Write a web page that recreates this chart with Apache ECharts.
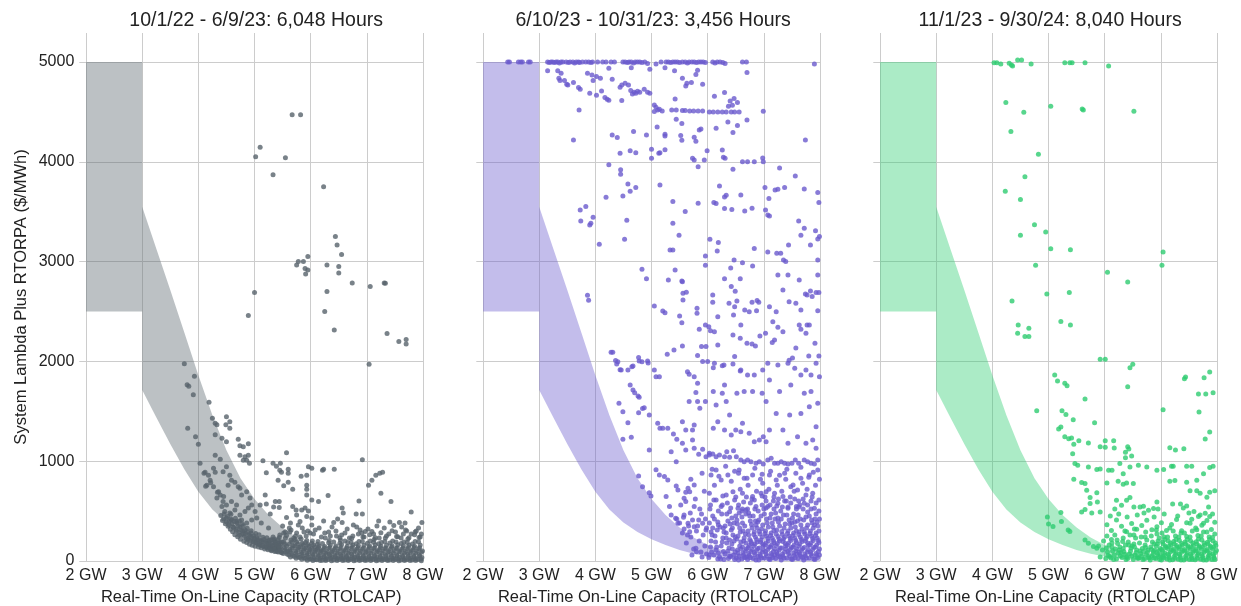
<!DOCTYPE html>
<html>
<head>
<meta charset="utf-8">
<script src="https://cdn.jsdelivr.net/npm/echarts@6/dist/echarts.min.js"></script>
<style>
  html, body { margin: 0; padding: 0; background: #ffffff; }
  #chart { width: 1241px; height: 606px; }
</style>
</head>
<body>
<div id="chart"></div>
<script>
// ---- Period titles and axis ticks ----
const periodTitles = [
  '10/1/22 - 6/9/23: 6,048 Hours',
  '6/10/23 - 10/31/23: 3,456 Hours',
  '11/1/23 - 9/30/24: 8,040 Hours'
];
const capacityTicks = [2, 3, 4, 5, 6, 7, 8];          // GW
const priceTicks = [0, 1000, 2000, 3000, 4000, 5000];  // $/MWh

// ---- Reserve price band (same in every period) ----
// Flat block below 3 GW of on-line capacity
const blockCapacity = [2, 3];
const blockPrice = [2500, 5000];
// Sloped band above 3 GW: upper and lower edge of the price range
const curveCapacity = [3.0, 3.25, 3.5, 3.75, 4.0, 4.25, 4.5, 4.75, 5.0, 5.25, 5.5, 5.75, 6.0, 6.25, 6.5, 6.75, 7.0, 7.5, 8.0];
const curveHigh = [3550, 3130, 2715, 2290, 1860, 1460, 1110, 830, 620, 460, 335, 235, 160, 110, 78, 57, 43, 25, 12];
const curveLow = [1713, 1440, 1172, 920, 695, 515, 385, 290, 218, 160, 110, 72, 45, 27, 15, 8, 4, 1, 0];

// ---- Hourly observations: [RTOLCAP in GW, System Lambda + RTORPA in $/MWh] ----
const hoursFall22 = [
  [5.67,4470],[5.82,4470],[5.10,4145],[5.02,4050],[5.55,4040],[5.33,3870],[6.23,3750],
  [6.44,3250],[6.47,3165],[6.55,3070],[5.95,3050],[5.78,3000],[5.87,3000],[5.75,2965],[5.90,2930],[5.95,2915],[5.91,2875],
  [6.29,2965],[6.50,2950],[6.50,2885],[6.74,2785],[7.06,2750],[7.31,2785],[7.33,2782],[6.29,2700],[6.25,2500],[6.42,2315],
  [7.36,2280],[7.57,2200],[7.70,2220],[7.70,2175],[5.00,2690],[4.89,2460],[7.04,1970],
  [3.75,1975],[3.93,1850],[3.80,1765],[3.83,1750],[3.91,1665],[4.19,1590],[3.81,1330],[3.95,1245],[4.00,1170],[4.03,980],
  [4.25,1430],[4.30,1380],[4.33,1365],[4.50,1445],[4.56,1395],[4.49,1365],[4.56,1330],[4.30,1265],[4.42,1230],[4.50,1195],
  [4.71,1220],[4.74,1155],[4.80,1145],[4.89,1175],[4.74,1060],[4.83,1045],[4.89,1060],[4.86,1010],[4.80,1010],[4.91,980],
  [5.57,1085],[6.92,1015],[4.30,1060],[4.39,1020],[4.27,930],[4.30,890],[4.12,890],[4.18,860],[4.21,810],[4.15,760],
  [4.44,895],[4.50,945],[4.56,860],[4.59,810],[4.65,790],[4.53,760],[4.71,745],[4.27,745],[4.36,695],[4.39,660],[4.33,630],
  [4.44,595],[4.42,545],[4.50,560],[4.59,595],[4.68,560],[4.77,660],[4.74,730],[4.86,695],[4.92,630],[4.47,495],[4.56,480],
  [4.65,510],[4.74,460],[4.83,495],[4.89,530],[4.95,560],[5.01,495],[4.50,430],[4.59,410],[4.68,395],[4.77,410],[4.86,380],
  [4.95,410],[5.04,430],[4.10,880],[4.22,785],[4.13,750],[4.34,690],[4.45,645],
  [4.40,455],[4.43,405],[4.46,470],[4.48,372],[4.52,445],[4.53,348],[4.55,398],[4.57,318],[4.60,372],[4.61,292],[4.63,336],
  [4.65,262],[4.67,315],[4.69,378],[4.70,242],[4.72,286],[4.74,338],[4.75,218],[4.77,263],[4.79,302],[4.81,198],[4.82,245],
  [4.84,276],[4.86,186],[4.88,222],[4.90,262],[4.91,168],[4.93,208],[4.95,236],[4.96,158],[4.98,193],[5.00,228],[5.01,148],
  [5.03,182],[5.05,214],[5.07,140],[5.09,168],[5.11,203],[5.12,132],[5.14,158],[5.16,192],[5.18,121],[5.20,152],[5.22,178],
  [5.24,112],[5.26,138],[5.28,168],[5.30,103],[5.32,128],[5.34,157],[5.36,96],[5.38,118],[5.40,146],[5.42,91],[5.44,116],
  [5.46,138],[5.48,86],[4.58,468],[4.66,428],[4.73,402],[4.80,352],[4.87,328],[4.94,302],[5.02,276],[5.08,262],[5.15,238],
  [5.22,232],[5.30,212],[5.37,198],[5.45,188],
  [4.45,420],[4.50,390],[4.55,360],[4.58,420],[4.62,340],[4.64,395],[4.68,300],[4.71,350],[4.73,260],[4.76,310],[4.78,370],
  [4.80,270],[4.83,310],[4.85,230],[4.87,290],[4.89,210],[4.92,250],[4.94,280],[4.97,200],[4.99,250],[5.02,190],[5.04,230],
  [5.06,170],[5.08,215],[5.10,160],[5.13,195],[5.15,150],[5.17,215],[5.19,140],[5.21,195],[5.23,130],[5.25,200],[5.27,150],
  [5.29,125],[5.31,175],[5.33,118],[5.35,220],[5.39,160],[5.41,120],[5.43,175],
  [5.15,1005],[5.33,980],[5.39,950],[5.46,980],[5.45,910],[5.48,890],[5.60,920],[5.60,880],[5.21,885],[5.42,810],[5.52,755],
  [5.60,790],[5.68,720],[5.83,850],[5.93,860],[5.96,945],[6.02,930],[5.93,760],[5.93,720],[5.93,660],[6.21,910],[6.23,920],
  [6.42,920],[5.19,660],[5.21,570],[5.37,595],[5.34,540],[5.44,595],[5.44,535],[5.68,545],[5.74,510],[5.84,510],[5.90,530],
  [5.96,500],[5.75,460],[5.93,445],[5.57,435],[5.64,380],[5.81,395],[6.02,430],[6.02,610],[6.14,595],[6.31,655],[6.56,530],
  [6.58,480],[6.81,470],[6.92,470],[6.86,600],[7.03,760],[7.09,810],[7.16,860],[7.23,880],[7.28,890],[7.25,680],[7.43,595],
  [7.79,490],[7.98,385],[6.23,400],[6.41,385],[6.56,385],[6.76,360],[6.88,310],[6.97,295],[7.09,295],[7.21,400],[7.41,390],
  [7.58,385],[7.71,300],[7.86,290],
  [5.10,560],[5.28,470],[5.12,380],[5.25,330],[5.50,350],[5.55,290],[5.65,310],[5.75,280],[5.85,330],[5.95,300],[6.05,270],
  [6.15,330],[6.25,280],[6.35,250],[6.45,300],[6.55,260],[6.65,320],[6.75,250],[6.85,270],[6.95,240],[7.05,262],[7.15,232],
  [7.25,282],[7.35,250],[7.45,302],[7.55,242],[7.65,270],[7.75,232],[7.85,262],[7.95,240],[7.62,340],[7.48,355],[7.92,330],
  [5.62,330],[5.78,360],[5.92,250],[6.08,310],[6.19,240],[6.32,290],[6.38,340],[6.52,230],[6.61,280],[6.69,230],[6.82,340],
  [6.91,280],[7.02,320],[7.12,270],[7.22,230],[7.31,330],[7.39,270],[7.51,290],[7.61,230],[7.69,310],[7.79,270],[7.88,300],
  [7.97,270],[6.02,360],[6.48,420],[7.18,350],[7.68,380],[5.52,280],[5.70,230],[5.88,290],
  [5.22,140],[5.25,175],[5.28,120],[5.27,210],
  [5.31,110],[5.34,150],[5.37,190],[5.33,240],[5.38,100],[5.36,125],[5.39,165],[5.35,205],
  [5.41,95],[5.44,130],[5.47,170],[5.42,215],[5.48,85],[5.45,260],[5.46,105],[5.43,150],[5.49,190],[5.44,235],
  [5.51,75],[5.54,110],[5.57,150],[5.52,190],[5.58,70],[5.55,230],[5.56,90],[5.53,130],[5.59,100],[5.54,170],[5.57,255],
  [5.61,60],[5.64,95],[5.67,130],[5.62,170],[5.68,55],[5.65,210],[5.63,290],[5.66,75],[5.63,115],[5.69,150],[5.64,40],[5.67,190],
  [5.71,45],[5.74,80],[5.77,115],[5.72,150],[5.78,40],[5.75,190],[5.73,250],[5.76,60],[5.73,100],[5.79,135],[5.74,28],[5.77,170],[5.72,215],
  [5.81,35],[5.84,70],[5.87,105],[5.82,140],[5.88,30],[5.85,175],[5.83,220],[5.86,52],[5.83,88],[5.89,122],[5.84,18],[5.87,160],[5.81,240],
  [5.91,25],[5.94,60],[5.97,95],[5.92,130],[5.98,20],[5.95,165],[5.93,205],[5.99,280],[5.96,40],[5.93,78],[5.99,112],[5.94,8],[5.97,148],[5.91,185],
  [6.01,20],[6.04,55],[6.07,90],[6.02,125],[6.08,15],[6.05,160],[6.03,200],[6.06,35],[6.03,72],[6.09,105],[6.04,5],[6.07,140],[6.02,178],
  [6.11,12],[6.14,48],[6.17,85],[6.12,118],[6.18,30],[6.15,150],[6.13,195],[6.16,20],[6.13,63],[6.19,99],[6.14,134],[6.17,4],[6.12,168],
  [6.21,8],[6.24,42],[6.27,78],[6.22,112],[6.28,25],[6.25,145],[6.26,230],[6.26,18],[6.23,60],[6.29,96],[6.24,131],[6.27,6],[6.21,175],
  [6.31,15],[6.34,52],[6.37,88],[6.32,125],[6.38,35],[6.35,160],[6.33,205],[6.36,22],[6.33,66],[6.39,101],[6.34,136],[6.37,3],[6.32,182],
  [6.41,10],[6.44,45],[6.47,82],[6.42,115],[6.48,28],[6.45,150],[6.46,250],[6.46,19],[6.43,61],[6.49,97],[6.44,132],[6.47,5],[6.41,190],
  [6.51,14],[6.54,50],[6.57,86],[6.52,122],[6.58,32],[6.55,165],[6.53,210],[6.56,21],[6.53,64],[6.59,100],[6.54,135],[6.57,4],[6.52,178],
  [6.61,9],[6.64,44],[6.67,80],[6.62,113],[6.68,26],[6.65,148],[6.66,185],[6.66,17],[6.63,59],[6.69,95],[6.64,130],[6.67,6],[6.61,200],
  [6.71,16],[6.74,53],[6.77,90],[6.72,126],[6.78,36],[6.75,160],[6.73,225],[6.76,23],[6.73,67],[6.79,102],[6.74,137],[6.77,3],[6.72,185],
  [6.81,11],[6.84,46],[6.87,83],[6.82,117],[6.88,29],[6.85,152],[6.86,195],[6.86,20],[6.83,62],[6.89,98],[6.84,133],[6.87,5],[6.81,172],
  [6.91,13],[6.94,49],[6.97,85],[6.92,120],[6.98,31],[6.95,158],[6.93,240],[6.96,18],[6.93,60],[6.99,96],[6.94,131],[6.97,4],[6.92,195],
  [7.01,10],[7.04,45],[7.07,81],[7.02,114],[7.08,27],[7.05,150],[7.06,200],[7.06,22],[7.03,65],[7.09,101],[7.04,136],[7.07,6],[7.01,178],
  [7.11,15],[7.14,51],[7.17,88],[7.12,124],[7.18,34],[7.15,162],[7.13,215],[7.16,19],[7.13,61],[7.19,97],[7.14,132],[7.17,3],[7.12,188],
  [7.21,9],[7.24,44],[7.27,79],[7.22,112],[7.28,25],[7.25,147],[7.26,185],[7.26,21],[7.23,63],[7.29,99],[7.24,134],[7.27,5],[7.21,172],
  [7.31,14],[7.34,50],[7.37,86],[7.32,122],[7.38,33],[7.35,158],[7.33,230],[7.36,17],[7.33,59],[7.39,95],[7.34,130],[7.37,4],[7.32,195],
  [7.41,11],[7.44,47],[7.47,83],[7.42,118],[7.48,29],[7.45,153],[7.46,200],[7.46,23],[7.43,66],[7.49,102],[7.44,137],[7.47,6],[7.41,180],
  [7.51,16],[7.54,52],[7.57,89],[7.52,125],[7.58,35],[7.55,163],[7.53,245],[7.56,20],[7.53,62],[7.59,98],[7.54,133],[7.57,3],[7.52,190],
  [7.61,10],[7.64,45],[7.67,81],[7.62,115],[7.68,27],[7.65,150],[7.66,190],[7.66,18],[7.63,60],[7.69,96],[7.64,131],[7.67,5],[7.61,175],
  [7.71,13],[7.74,49],[7.77,85],[7.72,120],[7.78,31],[7.75,157],[7.73,220],[7.76,22],[7.73,64],[7.79,100],[7.74,135],[7.77,4],[7.72,185],
  [7.81,9],[7.84,44],[7.87,80],[7.82,113],[7.88,26],[7.85,148],[7.86,195],[7.86,19],[7.83,61],[7.89,97],[7.84,132],[7.87,6],[7.81,170],
  [7.91,15],[7.94,51],[7.97,87],[7.92,123],[7.98,34],[7.95,160],[7.93,235],[7.96,21],[7.93,63],[7.99,99],[7.94,134],[7.97,3],[7.92,192]
];

const hoursSummer23 = [
  [2.44,5000],[2.47,5000],[2.63,5000],[2.67,5000],[2.70,5000],[2.81,5000],[2.84,5000],
  [3.15,5000],[3.18,4995],[3.21,5000],[3.24,5000],[3.27,4995],[3.30,5000],[3.33,5000],[3.36,4990],[3.39,5000],[3.42,5000],
  [3.48,5000],[3.52,4995],[3.55,5000],[3.60,5000],[3.63,4990],[3.66,5000],[3.70,5000],[3.72,4995],[3.77,5000],[3.83,5000],
  [3.88,5000],[3.92,4995],[3.95,5000],[4.04,5000],[4.13,5000],[4.19,5000],[4.28,5000],[4.34,5000],[4.49,5000],[4.53,5000],
  [4.57,4995],[4.60,5000],[4.64,5000],[4.68,4990],[4.71,5000],[4.75,5000],[4.79,5000],[4.83,4995],[4.88,5000],[4.93,4985],
  [5.08,4980],[5.17,5000],[5.26,5000],[5.30,5000],[5.34,4995],[5.38,5000],[5.42,5000],[5.46,5000],[5.50,4995],[5.55,5000],
  [5.60,5000],[5.64,4990],[5.67,5000],[5.72,5000],[5.76,5000],[5.80,4995],[5.84,5000],[5.88,5000],[5.92,5000],[5.96,4995],
  [6.09,5000],[6.13,4990],[6.17,5000],[6.22,5000],[6.27,4995],[6.31,4985],[6.62,5000],[6.69,5000],[7.90,4980],
  [3.15,4913],[3.33,4913],[3.39,4886],[3.35,4836],[3.37,4813],[3.45,4813],[3.49,4776],[3.51,4770],[3.61,4793],[3.70,4743],
  [3.73,4726],[3.86,4886],[3.94,4869],[4.02,4853],[3.96,4813],[3.90,4686],[4.02,4666],[4.11,4709],[4.09,4836],[4.24,4936],
  [4.30,4826],[4.17,4643],[4.21,4626],[4.24,4616],[3.71,4519],[3.61,4218],[4.44,4746],[4.47,4770],[4.53,4786],[4.59,4770],
  [4.63,4713],[4.69,4696],[4.75,4706],[4.79,4696],[4.87,4726],[4.93,4696],[4.97,4686],[4.66,4679],[4.72,4686],[4.47,4613],
  [4.64,4943],[4.97,4926],[5.05,4569],[5.08,4546],[5.11,4519],[5.05,4503],[5.14,4526],[5.19,4509],[5.42,4629],[5.36,4519],
  [5.44,4519],[5.24,4943],[5.41,4913],[5.55,4836],[5.63,4786],[5.61,4759],[5.71,4793],[5.79,4873],[5.82,4916],[5.91,4776],
  [5.55,4513],[5.60,4513],[5.68,4509],[5.75,4509],[5.83,4509],[5.91,4509],[6.03,4499],[6.10,4499],[6.18,4499],[6.26,4499],
  [6.33,4499],[6.42,4499],[6.48,4499],[6.56,4499],[5.44,4426],[5.54,4383],[5.10,4349],[5.24,4276],[5.24,4259],[4.91,4269],
  [4.68,4303],[4.30,4269],[4.39,4242],[4.44,4085],[4.62,4111],[4.72,4091],[5.00,4125],[5.00,4034],[5.13,4085],[5.15,4091],
  [5.24,4121],[5.52,4262],[5.54,4215],[5.76,4245],[5.79,4205],[5.85,4319],[5.88,4329],[5.99,4111],[5.73,4034],[5.76,4018],
  [5.94,4018],[6.12,4656],[6.30,4693],[6.40,4609],[6.47,4633],[6.53,4593],[6.37,4556],[6.44,4566],[6.70,4893],[6.15,4336],
  [6.36,4399],[6.45,4292],[6.53,4363],[6.70,4419],[6.99,4506],[6.26,4118],[6.28,4044],[6.31,4034],[6.62,4001],[6.71,4001],
  [6.83,4001],[6.98,4038],[6.99,4001],[7.74,4218],[5.83,3951],[6.45,3924],[7.28,3938],[4.24,3971],[4.45,3921],
  [4.45,3875],[4.58,3778],[4.62,3704],[4.72,3741],[4.49,3658],[4.19,3644],[3.73,3517],[3.83,3551],[3.74,3407],[3.90,3367],
  [3.92,3384],[3.96,3444],[4.07,3173],[4.56,3414],[4.52,3223],[5.15,3768],[5.38,3601],[5.60,3501],[5.83,3584],[5.38,3384],
  [5.49,3263],[5.33,3116],[5.38,3116],[6.21,3758],[6.30,3648],[6.33,3665],[6.11,3591],[6.15,3581],[6.30,3531],[6.43,3521],
  [6.59,3668],[6.66,3507],[6.79,3534],[6.04,3223],[6.19,3190],[6.17,3106],[5.96,3056],[5.96,2963],[6.83,3130],[7.02,3741],
  [7.20,3718],[7.25,3724],[7.37,3741],[7.09,3631],[7.03,3517],[7.07,3467],[7.10,3457],[7.56,3858],[7.72,3728],[7.96,3691],
  [7.98,3591],[7.62,3407],[7.72,3333],[7.66,3263],[7.92,3310],[7.99,3250],[7.96,3226],[7.83,3166],[7.44,3166],[7.23,3083],
  [7.30,3083],[7.07,3096],[7.35,3016],[7.39,3000],[6.41,2936],[6.58,2829],[6.62,2989],[6.80,2956],[6.49,2702],[6.38,2582],
  [6.52,2605],[6.46,2465],[6.59,2364],[6.66,2515],[6.74,2498],[6.79,2592],[6.88,2609],[6.91,2592],[6.87,2508],[6.09,2592],
  [5.96,2364],[6.02,2348],[6.05,2308],[6.12,2298],[6.18,2164],[6.45,2264],[6.58,2231],[6.70,2181],[6.79,2174],[6.85,2154],
  [6.93,2254],[5.81,2481],[5.89,2148],[5.82,2058],[5.91,1998],[6.00,1998],[6.10,1937],[6.26,1957],[6.48,2048],[6.58,1904],
  [5.54,2806],[5.56,2682],[5.62,2692],[5.50,2455],[5.54,2388],[5.55,2154],[5.40,2114],[5.28,2071],[5.05,2555],[5.20,2505],
  [5.24,2488],[4.83,2923],[4.91,2829],[3.86,2662],[3.88,2612],[4.28,2091],[4.31,2091],[4.36,2008],[4.38,1974],[4.44,1917],
  [4.77,2038],[4.83,1997],[4.94,1984],[4.65,1947],
  [7.03,2281],[7.15,2188],[7.19,2214],[7.25,2341],[7.34,2298],[7.57,2582],[7.66,2515],[7.74,2675],[7.77,2665],[7.83,2705],
  [7.86,2649],[7.93,2689],[7.98,2689],[7.96,2508],[7.98,2055],[7.91,2181],[7.80,2055],[7.63,2365],[7.66,2321],[7.75,2281],
  [7.77,2365],[7.81,2365],[7.45,2011],[7.51,2034],[7.57,2134],[7.25,2866],[7.34,2715],[7.43,2866],[7.63,2816],[7.96,2866],
  [7.96,3016],[7.10,2548],[7.22,2498],[7.45,2598],[7.16,2398],[6.47,3016],[6.30,2829],[6.42,2749],[6.48,2548],[6.09,2665],
  [6.18,2448],[5.97,2148],[5.30,2816],[5.42,2916],[5.55,2799],[5.56,2615],[5.81,2532],[5.85,2321],
  [4.40,1997],[4.46,1914],[4.58,1914],[4.67,1954],[4.78,2004],[4.93,2004],[4.62,1763],[4.67,1713],[4.70,1686],[4.76,1653],
  [4.78,1640],[4.42,1580],[4.49,1496],[4.58,1386],[4.49,1219],[4.64,1239],[4.77,1486],[4.84,1529],[4.87,1536],[4.96,1463],
  [4.96,1112],[4.77,852],[4.84,745],[4.96,685],[4.99,651],
  [5.05,1914],[5.08,1847],[5.14,1847],[5.11,1379],[5.15,1329],[5.20,1329],[5.29,1329],[5.39,1272],[5.45,1219],[5.55,1396],
  [5.61,1312],[5.73,1312],[5.76,1362],[5.79,1687],[5.82,1597],[5.86,1530],[5.96,1597],[5.64,1897],[5.67,1870],[5.76,1847],
  [5.82,1780],[5.67,1597],[5.73,1212],[5.35,1095],[5.44,995],[5.55,1179],[5.61,1112],[5.76,1129],[5.84,1069],[5.91,1119],
  [5.97,1045],[6.03,1079],[5.08,913],[5.14,862],[5.23,846],[5.29,812],[5.44,752],[5.47,712],[5.65,729],[5.68,695],[5.76,762],
  [5.58,629],[5.61,595],[5.76,545],[5.26,645],[5.32,545],[5.43,428],[5.47,378],[5.57,438],[5.65,378],[5.68,294],[5.76,344],
  [5.84,411],[5.91,378],[5.97,311],[5.79,127],[5.80,93],
  [6.12,1980],[6.29,1964],[6.45,1974],[6.59,1914],[6.71,1864],[6.83,1864],[6.98,1914],[6.30,1763],[6.10,1697],[6.26,1680],
  [6.33,1597],[6.52,1680],[6.65,1697],[6.80,1697],[6.97,1680],[6.15,1563],[6.39,1463],[6.62,1379],[6.50,1312],[6.74,1279],
  [6.83,1195],[6.92,1212],[6.99,1246],[6.18,1396],[6.10,1329],[6.30,1312],[6.42,1262],[6.59,1296],
  [6.03,1062],[6.09,1072],[6.15,1045],[6.21,1062],[6.30,1045],[6.34,1095],[6.39,1039],[6.46,1105],[6.51,1045],[6.59,1012],
  [6.65,995],[6.71,1012],[6.77,995],[6.86,979],[6.92,995],[6.99,972],[7.07,1012],[7.13,1029],[7.19,979],[7.25,979],
  [7.31,995],[7.37,979],[7.43,972],[7.50,979],[7.56,1012],[7.62,979],[7.72,1012],[7.78,995],[7.84,979],[7.90,972],[7.96,1012],
  [6.06,862],[6.15,912],[6.24,812],[6.36,862],[6.56,912],[6.65,829],[6.80,862],[6.98,779],[6.03,678],[6.15,612],[6.33,662],
  [6.45,695],[6.62,678],[6.80,645],[6.95,678],[6.24,545],[6.39,494],[6.54,528],[6.68,511],[6.86,545],
  [7.07,1980],[7.25,1964],[7.43,1980],[7.55,1930],[7.66,1864],[7.75,1914],[7.84,1864],[7.93,1980],[7.99,1847],[7.10,1814],
  [7.28,1697],[7.48,1763],[7.72,1680],[7.84,1697],[7.96,1580],[7.04,1597],[7.22,1479],[7.46,1463],[7.66,1479],[7.81,1546],
  [7.93,1346],[7.10,1312],[7.34,1312],[7.60,1246],[7.75,1179],[7.87,1212],[7.93,1129],[7.43,1179],[7.04,1195],
  [7.10,862],[7.22,812],[7.37,879],[7.52,762],[7.66,829],[7.81,862],[7.96,912],[7.04,695],[7.19,678],[7.34,645],[7.48,745],
  [7.60,712],[7.75,662],[7.87,678],[7.98,612],[7.07,545],[7.25,578],[7.43,528],[7.58,545],[7.72,578],[7.90,528],
  [5.52,560],[5.61,690],[5.69,480],[5.78,620],[5.86,520],[5.94,700],[6.05,560],[6.12,760],[6.19,500],[6.27,650],[6.35,580],
  [6.42,800],[6.50,640],[6.58,720],[6.64,590],[6.72,760],[6.79,620],[6.87,700],[6.94,820],[7.02,640],[7.09,720],[7.17,600],
  [7.24,760],[7.32,700],[7.39,820],[7.47,640],[7.54,700],[7.62,600],[7.69,780],[7.77,720],[7.84,600],[7.92,760],[7.99,820],
  [6.08,920],[6.32,950],[6.55,880],[6.84,930],[7.12,900],[7.41,920],[7.66,940],[7.88,890],
  [5.70,820],[5.90,880],[6.20,850],[6.48,900],[6.70,830],[6.97,870],[7.28,860],[7.57,880],[7.80,840],
  [5.58,320],[5.64,260],[5.73,410],[5.82,350],[5.89,470],[5.96,420],[6.04,520],[6.11,610],[6.18,390],[6.26,560],[6.34,470],
  [6.41,530],[6.48,610],[6.55,560],[6.62,520],[6.69,640],[6.76,580],[6.83,610],[6.90,500],[6.97,650],[7.04,600],[7.11,560],
  [7.18,640],[7.26,620],[7.33,540],[7.40,600],[7.48,580],[7.55,620],[7.62,540],[7.70,620],[7.78,560],[7.86,640],[7.93,580],
  [7.99,420],[6.06,290],[6.19,360],[6.28,330],[6.40,370],[6.50,450],[6.61,500],[6.73,480],[6.89,390],[7.00,520],[7.20,420],
  [7.30,500],[7.50,380],[7.60,400],[7.70,520],[7.90,360],
  [5.62,180],[5.70,240],[5.75,120],[5.80,300],[5.85,200],[5.88,90],[5.92,260],[5.95,150],[5.98,330],[5.55,280],[5.50,380],
  [5.66,350],[5.72,60],[5.90,40],[5.98,70],[5.45,420],[5.35,460],[5.58,460],
  [6.02,35],[6.05,140],[6.08,260],[6.03,380],[6.07,90],[6.09,450],[6.06,200],[6.03,60],[6.09,330],
  [6.11,60],[6.14,190],[6.17,310],[6.12,420],[6.18,20],[6.15,110],[6.16,140],[6.13,250],[6.19,80],
  [6.21,40],[6.24,150],[6.27,230],[6.22,340],[6.28,95],[6.25,470],[6.29,15],[6.26,190],[6.23,20],[6.29,290],
  [6.31,70],[6.34,180],[6.37,25],[6.33,280],[6.38,130],[6.36,400],[6.39,210],[6.36,100],[6.33,230],[6.39,50],[6.31,350],
  [6.41,45],[6.44,120],[6.47,200],[6.42,310],[6.48,15],[6.45,260],[6.49,90],[6.43,430],
  [6.46,60],[6.43,170],[6.49,240],[6.44,330],[6.47,380],
  [6.51,30],[6.54,80],[6.57,150],[6.52,220],[6.58,290],[6.55,10],[6.59,120],[6.53,370],[6.56,480],
  [6.56,50],[6.53,110],[6.59,190],[6.54,250],[6.57,330],[6.52,410],
  [6.61,20],[6.64,60],[6.67,100],[6.62,140],[6.68,180],[6.65,230],[6.63,300],[6.69,40],[6.66,350],[6.61,440],
  [6.66,35],[6.63,80],[6.69,120],[6.64,200],[6.67,270],[6.62,380],[6.68,470],
  [6.71,15],[6.74,55],[6.77,95],[6.72,135],[6.78,175],[6.75,215],[6.73,260],[6.79,330],[6.76,400],[6.71,520],
  [6.76,35],[6.73,75],[6.79,115],[6.74,155],[6.77,195],[6.72,300],[6.78,365],[6.75,450],
  [6.81,25],[6.84,65],[6.87,105],[6.82,150],[6.88,190],[6.85,240],[6.83,290],[6.89,45],[6.86,360],[6.81,450],
  [6.86,10],[6.83,85],[6.89,125],[6.84,170],[6.87,215],[6.82,265],[6.88,330],[6.85,400],[6.84,520],
  [6.91,10],[6.94,50],[6.97,90],[6.92,130],[6.98,170],[6.95,210],[6.93,270],[6.99,110],[6.96,320],[6.91,410],[6.97,560],
  [6.96,30],[6.93,70],[6.99,150],[6.94,190],[6.97,240],[6.92,295],[6.98,360],[6.95,450],
  [7.01,30],[7.04,70],[7.07,115],[7.02,160],[7.08,200],[7.05,250],[7.03,300],[7.09,20],[7.06,380],[7.01,470],
  [7.06,50],[7.03,95],[7.09,140],[7.04,180],[7.07,225],[7.02,275],[7.08,340],[7.05,420],[7.04,530],
  [7.11,15],[7.14,55],[7.17,95],[7.12,140],[7.18,185],[7.15,230],[7.13,280],[7.19,60],[7.16,340],[7.11,430],[7.18,520],
  [7.16,35],[7.13,75],[7.19,120],[7.14,160],[7.17,205],[7.12,255],[7.18,305],[7.15,380],[7.13,470],
  [7.21,25],[7.24,70],[7.27,110],[7.22,155],[7.28,200],[7.25,245],[7.23,310],[7.29,40],[7.26,390],[7.21,480],
  [7.26,50],[7.23,90],[7.29,130],[7.24,175],[7.27,220],[7.22,270],[7.28,350],[7.25,430],[7.23,550],
  [7.31,10],[7.34,50],[7.37,90],[7.32,130],[7.38,175],[7.35,220],[7.33,265],[7.39,120],[7.36,330],[7.31,420],[7.37,600],
  [7.36,30],[7.33,70],[7.39,150],[7.34,195],[7.37,240],[7.32,295],[7.38,370],[7.35,460],
  [7.41,30],[7.44,75],[7.47,115],[7.42,160],[7.48,205],[7.45,250],[7.43,300],[7.49,20],[7.46,370],[7.41,460],
  [7.46,50],[7.43,95],[7.49,135],[7.44,180],[7.47,225],[7.42,275],[7.48,330],[7.45,410],[7.43,540],
  [7.51,15],[7.54,55],[7.57,100],[7.52,140],[7.58,185],[7.55,230],[7.53,280],[7.59,70],[7.56,340],[7.51,430],[7.58,520],
  [7.56,35],[7.53,80],[7.59,120],[7.54,160],[7.57,205],[7.52,255],[7.58,300],[7.55,390],[7.53,470],
  [7.61,25],[7.64,65],[7.67,105],[7.62,150],[7.68,195],[7.65,240],[7.63,290],[7.69,35],[7.66,360],[7.61,460],
  [7.66,45],[7.63,85],[7.69,125],[7.64,170],[7.67,215],[7.62,265],[7.68,320],[7.65,420],[7.64,560],
  [7.71,10],[7.74,50],[7.77,90],[7.72,135],[7.78,180],[7.75,225],[7.73,270],[7.79,110],[7.76,330],[7.71,410],[7.78,490],
  [7.76,30],[7.73,70],[7.79,155],[7.74,200],[7.77,245],[7.72,290],[7.78,360],[7.75,440],
  [7.81,30],[7.84,70],[7.87,115],[7.82,160],[7.88,205],[7.85,250],[7.83,300],[7.89,20],[7.86,380],[7.81,450],
  [7.86,50],[7.83,90],[7.89,135],[7.84,180],[7.87,225],[7.82,275],[7.88,330],[7.85,410],[7.84,520],
  [7.91,15],[7.94,55],[7.97,95],[7.92,140],[7.98,185],[7.95,230],[7.93,280],[7.99,60],[7.96,350],[7.91,420],[7.98,500],
  [7.96,35],[7.93,75],[7.99,120],[7.94,160],[7.97,205],[7.92,255],[7.98,300],[7.95,390],[7.93,470]
];

const hoursWinter24 = [
  [4.03,4993],[4.08,4993],[4.15,4980],[4.30,4987],[4.34,4970],[4.36,4960],[4.45,5020],[4.52,5020],[4.69,4980],[5.29,4993],
  [5.38,4993],[5.42,4993],[5.65,4993],[6.07,4960],
  [4.24,4593],[4.56,4496],[5.04,4556],[5.60,4529],[5.62,4519],[6.52,4506],[4.33,4302],[4.82,4074],
  [4.58,3851],[4.23,3704],[4.50,3621],[4.75,3370],[4.95,3297],[4.50,3263],[5.04,3129],[5.39,3119],[7.04,3096],[7.02,2963],
  [4.77,2963],[6.05,2892],[6.41,2795],[4.35,2605],[4.97,2676],[5.37,2689],[4.46,2365],[4.65,2332],[4.58,2249],[5.22,2399],
  [5.39,2365],[5.92,2021],[6.01,2021],
  [4.45,2281],[4.65,2248],[6.50,1971],[6.45,1937],[6.41,1746],
  [5.11,1863],[5.16,1803],[5.29,1780],[5.33,1756],[5.65,1623],[4.79,1506],[5.24,1506],[5.31,1469],[5.44,1416],[5.82,1386],
  [5.22,1342],[5.18,1322],[5.29,1245],[5.36,1225],[5.41,1232],[5.54,1205],[5.45,1169],[5.71,1182],[5.92,1145],[6.01,1205],
  [6.01,1139],[6.16,1205],[6.17,1132],[6.41,1145],[6.43,1122],[6.37,1089],[6.48,1052],[5.43,1075],[6.37,1035],
  [7.04,1516],[7.16,1135],[7.26,1112],[7.41,1125],[7.42,1826],[7.44,1843],[7.77,1836],[7.87,1893],[7.67,1672],[7.80,1672],
  [7.93,1686],[7.68,1493],[7.87,1292],[7.79,1222],
  [5.47,976],[5.52,959],[5.71,942],[5.86,916],[5.92,922],[6.07,909],[6.13,909],[6.27,976],[6.33,875],[6.45,942],[6.60,959],
  [6.75,942],[6.93,909],[7.05,916],[7.19,949],[7.22,949],[7.46,949],[7.55,949],[7.64,809],[7.76,875],[7.87,936],[7.93,949],
  [5.45,819],[5.59,786],[5.65,776],[5.68,709],[5.74,635],[5.86,685],[5.74,575],[5.59,492],[5.65,515],[5.77,482],[5.87,592],
  [5.92,492],[6.04,782],[6.24,799],[6.33,769],[6.39,782],[6.51,776],[6.45,635],[6.39,609],[6.30,558],[6.21,609],[6.63,542],
  [6.69,548],[6.78,508],[6.87,525],[6.93,592],[7.16,799],[7.25,806],[7.46,789],[7.52,705],[7.64,705],[7.70,679],[7.82,639],
  [7.87,689],[7.96,705],[7.21,572],[7.35,572],[7.46,552],[7.59,495],[7.67,445],[7.79,478],[7.52,378],[7.76,378],[7.87,445],
  [5.22,485],[5.23,395],[5.35,311],[5.38,295],[5.65,211],[5.71,178],[5.80,145],[5.86,128],[5.89,151],
  [4.98,440],[5.00,370],[5.08,345],
  [6.04,362],[6.12,305],[6.21,412],[6.30,348],[6.39,292],[6.48,376],[6.57,318],[6.66,355],[6.75,408],[6.84,312],[6.93,342],
  [7.01,384],[7.10,306],[7.19,365],[7.28,415],[7.37,302],[7.46,382],[7.55,418],[7.64,314],[7.73,358],[7.82,406],[7.90,316],
  [7.96,388],
  [6.10,450],[6.25,470],[6.40,440],[6.58,460],[6.70,480],[6.88,440],[7.06,470],[7.30,450],[7.50,480],[7.70,460],[7.92,470],
  [6.18,520],[6.52,540],[6.95,520],[7.40,530],[7.85,540],
  [6.09,45],[6.19,120],[6.29,85],[6.39,40],[6.49,150],[6.59,25],[6.69,95],[6.79,30],[6.89,110],[6.99,60],[6.12,215],
  [6.32,195],[6.52,260],[6.72,240],[6.92,310],
  [5.92,40],[5.96,110],[5.98,200],
  [6.02,25],[6.05,90],[6.08,160],[6.04,250],[6.06,55],[6.03,130],
  [6.11,30],[6.14,100],[6.17,60],[6.13,180],[6.18,260],[6.16,15],[6.13,140],
  [6.21,20],[6.24,80],[6.27,140],[6.22,210],[6.28,50],[6.26,110],[6.23,175],
  [6.31,35],[6.34,95],[6.37,160],[6.33,230],[6.38,15],[6.36,300],[6.36,65],[6.33,125],
  [6.41,25],[6.44,70],[6.47,130],[6.42,190],[6.48,50],[6.45,260],[6.46,100],[6.43,160],
  [6.51,15],[6.54,60],[6.57,110],[6.52,170],[6.58,40],[6.55,230],[6.53,320],[6.56,85],[6.53,140],
  [6.61,30],[6.64,75],[6.67,125],[6.62,180],[6.68,15],[6.65,240],[6.66,50],[6.63,100],
  [6.71,20],[6.74,65],[6.77,110],[6.72,160],[6.78,45],[6.75,210],[6.73,290],[6.76,85],[6.73,135],
  [6.81,10],[6.84,50],[6.87,95],[6.82,140],[6.88,30],[6.85,190],[6.83,250],[6.86,70],[6.83,115],[6.88,170],
  [6.91,25],[6.94,65],[6.97,105],[6.92,150],[6.98,15],[6.95,200],[6.93,270],
  [6.96,45],[6.93,85],[6.99,125],[6.94,170],[6.97,230],
  [7.01,10],[7.04,45],[7.07,80],[7.02,115],[7.08,150],[7.05,30],[7.03,190],[7.06,240],
  [7.06,60],[7.03,100],[7.09,135],[7.04,170],[7.07,215],[7.02,280],
  [7.11,20],[7.14,55],[7.17,90],[7.12,125],[7.18,160],[7.15,35],[7.13,200],[7.16,330],
  [7.16,10],[7.13,70],[7.19,110],[7.14,145],[7.17,180],[7.12,240],
  [7.21,12],[7.24,48],[7.27,84],[7.22,118],[7.28,155],[7.25,28],[7.23,195],[7.26,250],
  [7.26,65],[7.23,100],[7.29,135],[7.24,170],[7.27,215],[7.22,300],
  [7.31,18],[7.34,52],[7.37,88],[7.32,122],[7.38,158],[7.35,34],[7.33,205],[7.36,280],
  [7.36,10],[7.33,70],[7.39,105],[7.34,140],[7.37,175],[7.32,240],
  [7.41,10],[7.44,46],[7.47,82],[7.42,116],[7.48,152],[7.45,26],[7.43,190],[7.46,245],
  [7.46,60],[7.43,100],[7.49,135],[7.44,170],[7.47,215],[7.42,280],
  [7.51,16],[7.54,50],[7.57,86],[7.52,120],[7.58,156],[7.55,32],[7.53,200],[7.56,300],
  [7.56,15],[7.53,70],[7.59,105],[7.54,140],[7.57,180],[7.52,240],
  [7.61,12],[7.64,47],[7.67,83],[7.62,117],[7.68,153],[7.65,28],[7.63,192],[7.66,255],
  [7.66,65],[7.63,100],[7.69,135],[7.64,170],[7.67,220],[7.62,330],
  [7.71,17],[7.74,51],[7.77,87],[7.72,121],[7.78,157],[7.75,33],[7.73,210],[7.76,290],
  [7.76,10],[7.73,70],[7.79,105],[7.74,140],[7.77,180],[7.72,250],
  [7.81,11],[7.84,45],[7.87,81],[7.82,115],[7.88,151],[7.85,27],[7.83,188],[7.86,240],
  [7.86,60],[7.83,100],[7.89,135],[7.84,170],[7.87,215],[7.82,290],
  [7.91,15],[7.94,49],[7.97,85],[7.92,119],[7.98,155],[7.95,31],[7.93,200],[7.96,270],
  [7.96,15],[7.93,70],[7.99,105],[7.94,140],[7.97,180],[7.92,235]
];

// ---- Drawing ----
const periodHours = [hoursFall22, hoursSummer23, hoursWinter24];
const pointColors = ['#57636c', '#6a5acd', '#2ecc71'];
const bandColors = ['rgba(87,99,108,0.4)', 'rgba(106,90,205,0.4)', 'rgba(46,204,113,0.4)'];

const FONT = 'Liberation Sans, Arial, sans-serif';
const TEXT = '#222222';
const GRID_LINE = '#cccccc';

const panelLeft = [79.3, 476.3, 873.3];
const panelWidth = 343.7;

const chart = echarts.init(document.getElementById('chart'), null, { renderer: 'canvas' });

function bandSeries(i) {
  return {
    type: 'custom',
    xAxisIndex: i,
    yAxisIndex: i,
    silent: true,
    z: 1,
    data: [[curveCapacity[0], curveLow[0]]],
    renderItem: function (params, api) {
      const upper = curveCapacity.map((c, k) => api.coord([c, curveHigh[k]]));
      const lower = curveCapacity.map((c, k) => api.coord([c, curveLow[k]])).reverse();
      const block = [
        api.coord([blockCapacity[0], blockPrice[1]]),
        api.coord([blockCapacity[1], blockPrice[1]]),
        api.coord([blockCapacity[1], blockPrice[0]]),
        api.coord([blockCapacity[0], blockPrice[0]])
      ];
      return {
        type: 'group',
        children: [
          { type: 'polygon', shape: { points: block }, style: { fill: bandColors[i] } },
          { type: 'polygon', shape: { points: upper.concat(lower) }, style: { fill: bandColors[i] } }
        ]
      };
    }
  };
}

const option = {
  backgroundColor: '#ffffff',
  animation: false,
  title: periodTitles.map((t, i) => ({
    text: t,
    left: panelLeft[i] + panelWidth / 2,
    top: 6,
    textAlign: 'center',
    textStyle: { fontFamily: FONT, fontSize: 19.5, fontWeight: 'normal', color: TEXT }
  })),
  grid: panelLeft.map(l => ({
    left: l, top: 33, width: panelWidth, height: 528,
    containLabel: false, outerBoundsMode: 'none'
  })),
  xAxis: panelLeft.map((l, i) => ({
    type: 'value',
    gridIndex: i,
    min: 1.88,
    max: capacityTicks[capacityTicks.length - 1],
    name: 'Real-Time On-Line Capacity (RTOLCAP)',
    nameLocation: 'middle',
    nameGap: 25,
    nameTextStyle: { fontFamily: FONT, fontSize: 16.5, color: TEXT },
    axisLine: { show: false },
    axisTick: { show: false },
    axisLabel: {
      fontFamily: FONT, fontSize: 16, color: TEXT, margin: 7,
      showMinLabel: false,
      formatter: v => (capacityTicks.indexOf(v) >= 0 ? v + ' GW' : '')
    },
    splitLine: { show: true, showMinLine: false, lineStyle: { color: GRID_LINE, width: 1 } }
  })),
  yAxis: panelLeft.map((l, i) => ({
    type: 'value',
    gridIndex: i,
    min: priceTicks[0],
    max: 5290,
    name: i === 0 ? 'System Lambda Plus RTORPA ($/MWh)' : '',
    nameLocation: 'middle',
    nameGap: 49,
    nameTextStyle: { fontFamily: FONT, fontSize: 16.5, color: TEXT },
    axisLine: { show: false },
    axisTick: { show: false },
    axisLabel: {
      show: i === 0,
      fontFamily: FONT, fontSize: 16, color: TEXT, margin: 5,
      showMaxLabel: false,
      formatter: v => (priceTicks.indexOf(v) >= 0 ? String(v) : '')
    },
    splitLine: { show: true, showMaxLine: false, lineStyle: { color: GRID_LINE, width: 1 } }
  })),
  series: [0, 1, 2].map(bandSeries).concat(periodHours.map((pts, i) => ({
    type: 'scatter',
    name: periodTitles[i],
    xAxisIndex: i,
    yAxisIndex: i,
    data: pts,
    symbolSize: 5,
    z: 3,
    itemStyle: { color: pointColors[i], opacity: 0.8 }
  })))
};

chart.setOption(option);
</script>
</body>
</html>
